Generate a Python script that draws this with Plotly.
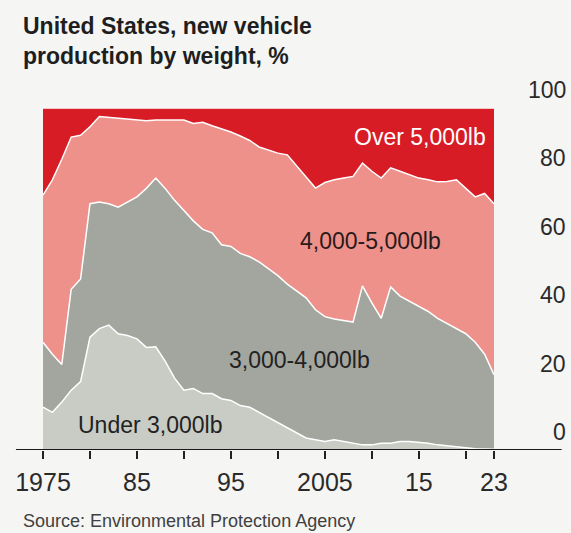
import plotly.graph_objects as go

years = list(range(1975, 2024))

under_3000 = [12.5, 11, 14, 17.5, 20, 33, 35.5, 36.5, 34, 33.5,
              32.5, 30, 30.2, 26, 21, 17.5, 18, 16.5, 16.5, 15,
              14.5, 13, 12.5, 11, 9.5, 8, 6.5, 5, 3.5, 3,
              2.5, 3, 2.5, 2, 1.5, 1.5, 2, 2, 2.5, 2.5,
              2.3, 2, 1.5, 1.2, 1, 0.6, 0.4, 0.3, 0.2]
w3000_4000 = [19.0, 17, 11, 29.5, 30, 39, 37, 35.5, 37, 39,
              41.5, 46.5, 49.3, 50.5, 52, 52.5, 49, 48, 47, 45,
              45, 44.5, 44, 44, 43.5, 43, 42, 41.5, 41, 38,
              36.5, 35.3, 35.3, 35.4, 46.5, 41.5, 36.5, 45.7, 42.5, 41,
              39.7, 38.5, 37, 35.8, 34.5, 33.4, 31.1, 27.7, 21.8]
w4000_5000 = [43.0, 51, 60, 44.5, 42, 22.5, 25, 25.3, 26, 24.3,
              22.5, 19.8, 17, 20, 23.5, 26.5, 28.5, 31.3, 31.3, 34,
              33.5, 34.3, 34, 33.6, 34.7, 35.8, 37.8, 36.5, 35.5, 35.6,
              39.2, 40.7, 41.7, 42.6, 35.9, 38.5, 41, 34.8, 36.5, 36.9,
              37.5, 38.5, 39.9, 41.5, 43.5, 42.5, 42.5, 47, 50]
over_5000 = [25.5, 21, 15, 8.5, 8, 5.5, 2.5, 2.7, 3, 3.2,
             3.5, 3.7, 3.5, 3.5, 3.5, 3.5, 4.5, 4.2, 5.2, 6,
             7, 8.2, 9.5, 11.4, 12.3, 13.2, 13.7, 17, 20, 23.4,
             21.8, 21, 20.5, 20, 16.1, 18.5, 20.5, 17.5, 18.5, 19.6,
             20.5, 21, 21.6, 21.5, 21, 23.5, 26, 25, 28]

series = [
    ("Under 3,000lb", under_3000, "#C9CCC5"),
    ("3,000-4,000lb", w3000_4000, "#A2A69F"),
    ("4,000-5,000lb", w4000_5000, "#EE918B"),
    ("Over 5,000lb", over_5000, "#D81C26"),
]

y_ticks = [0, 20, 40, 60, 80, 100]
x_tickvals = [1975, 1980, 1985, 1990, 1995, 2000, 2005, 2010, 2015, 2020, 2023]
x_ticktext = ["1975", "", "85", "", "95", "", "2005", "", "15", "", "23"]

FONT = "Liberation Sans, Arial, sans-serif"

fig = go.Figure()
for name, vals, col in series:
    fig.add_trace(go.Scatter(
        x=years, y=vals, name=name, mode="lines", stackgroup="one",
        line=dict(color="white", width=1.5), fillcolor=col,
        hoverinfo="skip"))

annotations = []
for v in y_ticks:
    annotations.append(dict(xref="paper", yref="y", x=1.165, y=v, yshift=18,
                            text=str(v), showarrow=False, xanchor="right",
                            font=dict(family=FONT, size=23, color="#2a2a2a")))

labels = [
    ("Over 5,000lb", 2015.1, 91.5, "white"),
    ("4,000-5,000lb", 2009.9, 61.1, "#2a1a1a"),
    ("3,000-4,000lb", 2002.35, 26.3, "#222222"),
    ("Under 3,000lb", 1986.4, 7.3, "#222222"),
]
for t, x, y, c in labels:
    annotations.append(dict(x=x, y=y, text=t, showarrow=False,
                            font=dict(family=FONT, size=23, color=c)))

annotations.append(dict(xref="paper", yref="paper", x=-0.048, y=(450 - 11) / 342,
                        xanchor="left", yanchor="top", align="left",
                        text="<b>United States, new vehicle<br>production by weight, %</b>",
                        showarrow=False,
                        font=dict(family=FONT, size=23, color="#1e1e1e")))
annotations.append(dict(xref="paper", yref="paper", x=-0.048, y=(450 - 509) / 342,
                        xanchor="left", yanchor="top",
                        text="Source: Environmental Protection Agency",
                        showarrow=False,
                        font=dict(family=FONT, size=18, color="#404040")))

fig.update_layout(
    width=571, height=533,
    margin=dict(l=43, r=77, t=108, b=83),
    paper_bgcolor="#F5F5F3", plot_bgcolor="#F5F5F3",
    showlegend=False,
    annotations=annotations,
    xaxis=dict(range=[1975, 2023], tickvals=x_tickvals, ticktext=x_ticktext,
               ticks="outside", ticklen=8, tickwidth=1.5, tickcolor="#222",
               ticklabelstandoff=2,
               showgrid=False, zeroline=False, showline=False,
               tickfont=dict(family=FONT, size=25, color="#2a2a2a")),
    yaxis=dict(range=[0, 100], showticklabels=False, showgrid=False,
               zeroline=False, fixedrange=True),
    shapes=[dict(type="line", xref="paper", yref="y", x0=-0.06, x1=1.15,
                 y0=0, y1=0, line=dict(color="#1a1a1a", width=2))],
)

fig.write_html("out.html")
